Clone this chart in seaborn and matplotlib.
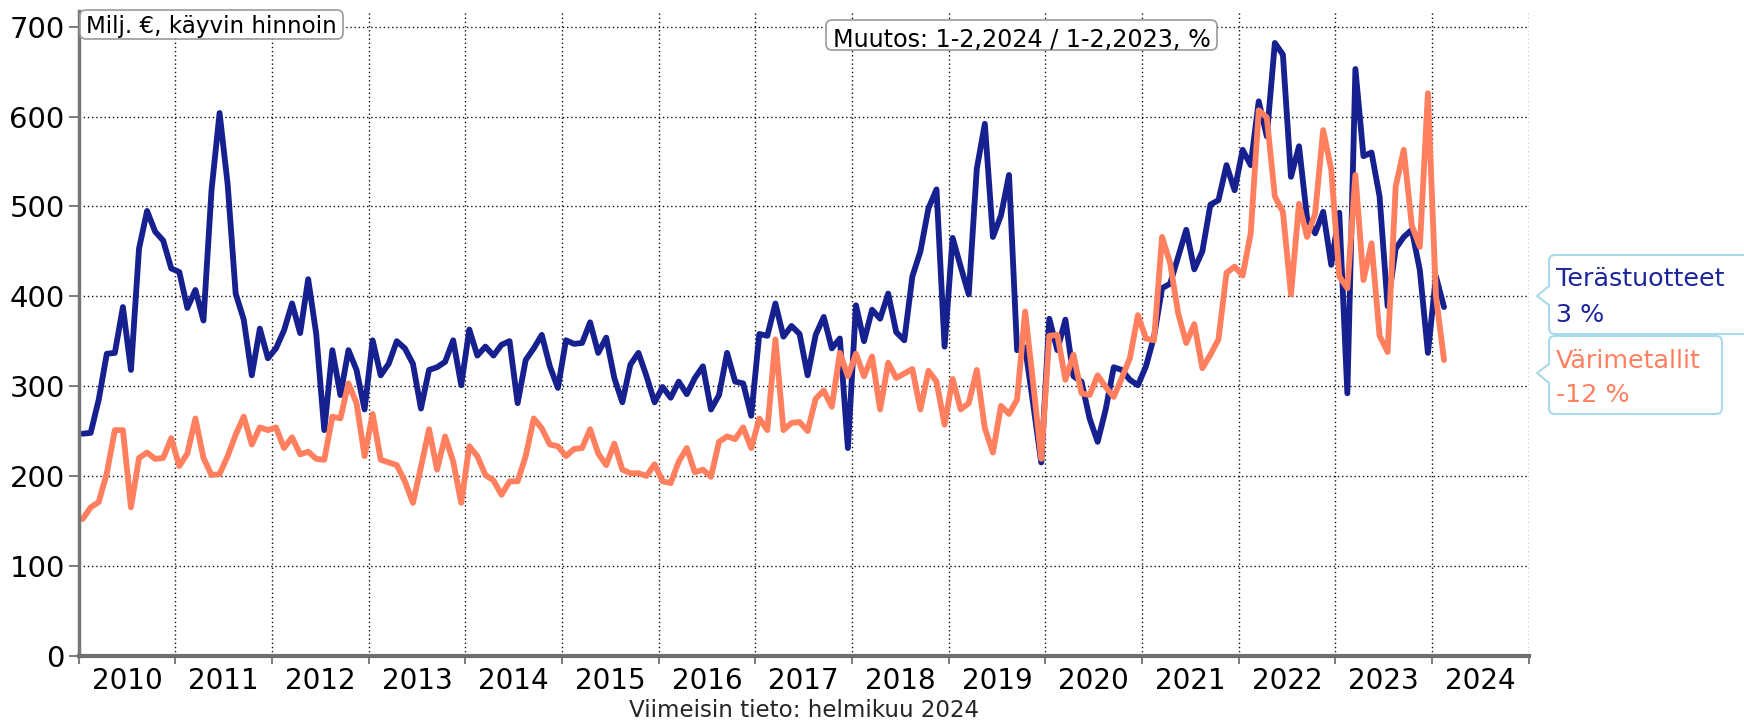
import numpy as np
import pandas as pd
import matplotlib
matplotlib.use("Agg")
import matplotlib.pyplot as plt
import seaborn as sns
from matplotlib.patches import FancyBboxPatch, Polygon
from matplotlib.lines import Line2D
from matplotlib.transforms import IdentityTransform

# ---------------- data (monthly, Jan 2010 - Feb 2024, milj. €) ----------------
start_month = "2010-01"

terastuotteet = [
    247, 248, 285, 336, 337, 388, 318, 453, 495, 472, 462, 431,   # 2010
    427, 387, 407, 373, 518, 604, 525, 403, 374, 312, 364, 331,   # 2011
    342, 362, 392, 359, 419, 358, 251, 340, 290, 340, 318, 274,   # 2012
    351, 312, 325, 350, 342, 325, 275, 318, 321, 327, 351, 301,   # 2013
    363, 334, 344, 334, 346, 350, 281, 329, 342, 357, 322, 298,   # 2014
    351, 347, 348, 371, 337, 354, 309, 282, 324, 337, 311, 282,   # 2015
    299, 287, 305, 291, 309, 322, 274, 290, 337, 305, 303, 267,   # 2016
    358, 356, 392, 355, 367, 358, 312, 357, 377, 342, 353, 231,   # 2017
    390, 350, 385, 375, 403, 360, 351, 422, 450, 498, 519, 344,   # 2018
    465, 433, 402, 542, 592, 466, 490, 535, 340, 343, 280, 215,   # 2019
    375, 340, 374, 311, 305, 264, 238, 274, 321, 318, 307, 301,   # 2020
    322, 355, 409, 414, 444, 474, 430, 450, 502, 507, 546, 518,   # 2021
    563, 546, 617, 578, 682, 669, 533, 567, 487, 470, 494, 435,   # 2022
    493, 292, 653, 556, 560, 511, 389, 453, 466, 474, 429, 337,   # 2023
    422, 388,                                                     # 2024
]

varimetallit = [
    152, 165, 171, 203, 251, 251, 165, 220, 226, 219, 220, 242,   # 2010
    211, 225, 264, 220, 201, 202, 222, 246, 266, 235, 254, 251,   # 2011
    254, 231, 243, 224, 227, 219, 218, 266, 264, 303, 281, 222,   # 2012
    269, 218, 215, 212, 194, 170, 210, 252, 207, 244, 216, 170,   # 2013
    233, 222, 201, 195, 179, 194, 194, 222, 264, 253, 235, 233,   # 2014
    222, 230, 231, 252, 225, 212, 236, 207, 203, 203, 200, 213,   # 2015
    194, 192, 216, 231, 204, 207, 199, 238, 244, 241, 254, 231,   # 2016
    264, 251, 352, 251, 259, 260, 250, 286, 295, 277, 337, 311,   # 2017
    336, 311, 333, 274, 326, 309, 314, 319, 274, 317, 305, 257,   # 2018
    308, 274, 281, 318, 253, 226, 278, 269, 285, 383, 303, 219,   # 2019
    356, 357, 307, 335, 292, 290, 312, 299, 288, 309, 331, 379,   # 2020
    353, 351, 466, 437, 381, 348, 369, 320, 335, 352, 426, 433,   # 2021
    423, 470, 607, 599, 511, 494, 402, 503, 466, 492, 585, 541,   # 2022
    422, 409, 535, 418, 459, 356, 338, 522, 563, 479, 455, 626,   # 2023
    400, 329,                                                     # 2024
]

series_names = ["Terästuotteet", "Värimetallit"]
series_colors = ["#17208F", "#FF7F5E"]
label_colors = ["#1B249A", "#FF7F5E"]
series_changes = ["3 %", "-12 %"]
year_labels = [str(y) for y in range(2010, 2025)]
y_ticks = [0, 100, 200, 300, 400, 500, 600, 700]
unit_label = "Milj. €, käyvin hinnoin"
change_label = "Muutos: 1-2,2024 / 1-2,2023, %"
footer_label = "Viimeisin tieto: helmikuu 2024"

# ---------------- build long-form frame ----------------
n = len(terastuotteet)
dates = pd.date_range(start_month, periods=n, freq="MS")
xpos = np.asarray(dates.year + (dates.month - 0.5) / 12.0, dtype=float)
df = pd.DataFrame({
    "x": np.concatenate([xpos, xpos]),
    "value": terastuotteet + varimetallit,
    "series": [series_names[0]] * n + [series_names[1]] * n,
})

# ---------------- figure ----------------
W, H = 1744, 722
sns.set_style("white")
plt.rcParams["font.family"] = ["DejaVu Sans"]

fig = plt.figure(figsize=(W / 100, H / 100), dpi=100)
ax_left, ax_right, ax_bottom, ax_top = 78.6, 1528.6, 655.6, 10.6
ax = fig.add_axes([ax_left / W, 1 - ax_bottom / H,
                   (ax_right - ax_left) / W, (ax_bottom - ax_top) / H])

sns.lineplot(data=df, x="x", y="value", hue="series",
             palette=dict(zip(series_names, series_colors)),
             linewidth=4.2, legend=False, estimator=None, ax=ax)

first_year = int(year_labels[0])
last_year = int(year_labels[-1])
ax.set_xlim(first_year, last_year + 1)
ax.set_ylim(0, 718)
ax.set_xlabel("")
ax.set_ylabel("")

ax.set_xticks(np.arange(first_year, last_year + 2))
ax.set_xticklabels([])
ax.set_xticks(np.arange(first_year, last_year + 1) + 0.5, minor=True)
ax.set_xticklabels(year_labels, minor=True)
ax.tick_params(axis="x", which="major", length=6, width=1.2, color="#666666",
               direction="out", bottom=True)
ax.tick_params(axis="x", which="minor", length=0, pad=8, labelsize=20,
               labelcolor="black", bottom=True)
ax.set_yticks(y_ticks)
ax.set_yticklabels([str(v) for v in y_ticks])
ax.tick_params(axis="y", length=7, width=1.2, color="#666666", pad=3,
               labelsize=21, labelcolor="black", left=True)

ax.set_axisbelow(True)
ax.grid(True, which="major", axis="both", color="#111111",
        linestyle=(0, (1, 2)), linewidth=1.0)

for side in ["top", "right"]:
    ax.spines[side].set_visible(False)
ax.spines["left"].set_color("#777777")
ax.spines["left"].set_linewidth(2.5)
ax.spines["bottom"].set_color("#6f6f6f")
ax.spines["bottom"].set_linewidth(3)

IT = IdentityTransform()


def px_box(x0, y0, x1, y1, ec, lw=1.2, r=6):
    p = FancyBboxPatch((x0, H - y1), x1 - x0, y1 - y0,
                       boxstyle=f"round,pad=0,rounding_size={r}",
                       transform=IT, fc="white", ec=ec, lw=lw, zorder=5)
    fig.add_artist(p)


def px_pointer(xbox, ytop, ybot, xtip, ytip, ec, lw=1.5):
    tri = Polygon([(xbox + 1.5, H - ytop), (xtip, H - ytip), (xbox + 1.5, H - ybot)],
                  closed=True, transform=IT, fc="white", ec="none", zorder=6)
    fig.add_artist(tri)
    ln = Line2D([xbox, xtip, xbox], [H - ytop, H - ytip, H - ybot],
                transform=IT, color=ec, lw=lw, zorder=7)
    fig.add_artist(ln)


def px_text(x, y, s, size, color="black", ha="left"):
    fig.text(x, H - y, s, transform=IT, fontsize=size, color=color,
             ha=ha, va="baseline", zorder=8)


# unit box
px_box(80, 10, 343, 39, "#9a9a9a")
px_text(86, 33.5, unit_label, 16.6)

# change box
px_box(826, 20, 1217, 50, "#9a9a9a")
px_text(1021.5, 46.5, change_label, 17.2, ha="center")

# series callouts
callout_ec = "#A9DAEB"
px_box(1549, 255, 1765, 334, callout_ec, lw=1.5)
px_pointer(1549, 286, 305, 1537, 296, callout_ec)
px_text(1556, 286.5, series_names[0], 18.3, label_colors[0])
px_text(1556, 321.5, series_changes[0], 18.3, label_colors[0])

px_box(1549, 336, 1722, 414, callout_ec, lw=1.5)
px_pointer(1549, 364, 383, 1537, 373, callout_ec)
px_text(1556, 368.5, series_names[1], 18.3, label_colors[1])
px_text(1556, 402.5, series_changes[1], 18.3, label_colors[1])

# footer
fig.text((ax_left + ax_right) / 2, H - 717, footer_label, transform=IT,
         fontsize=16.6, ha="center", va="baseline")

fig.savefig("out.png", dpi=100)
